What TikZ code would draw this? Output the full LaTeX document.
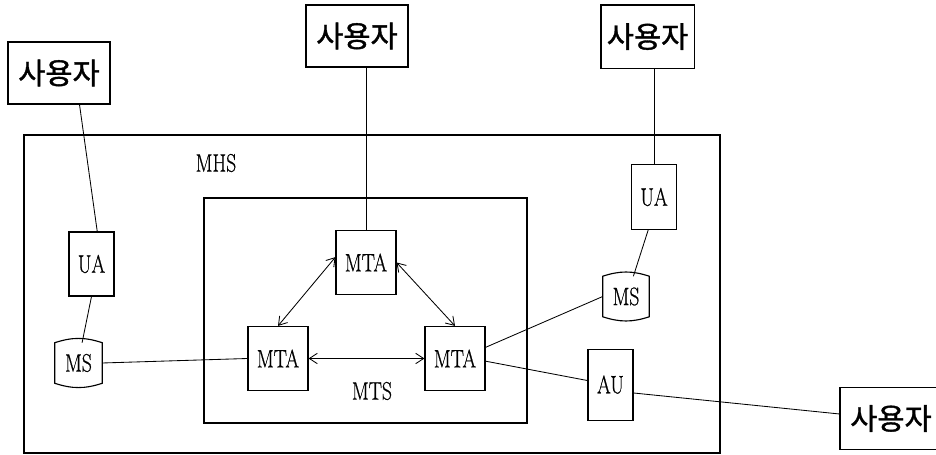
\documentclass[tikz,border=0pt]{standalone}
\usepackage{fontspec}
\newfontfamily\kor{Noto Sans CJK KR}[FakeBold=1.2]
\newfontfamily\lab{Latin Modern Roman}[FakeStretch=0.78, FakeBold=0.6]
\usetikzlibrary{arrows.meta}
\begin{document}
\begin{tikzpicture}[
		box/.style={draw, line width=0.8pt, inner sep=0pt},
		user/.style={box, minimum width=2.55cm, minimum height=1.55cm, font=\kor\fontsize{21}{21}\selectfont},
		agent/.style={box, minimum width=1.125cm, minimum height=1.6cm, font=\lab\fontsize{18}{18}\selectfont},
		mta/.style={box, minimum width=1.5cm, minimum height=1.6cm, font=\lab\fontsize{18}{18}\selectfont},
		store/.style={inner sep=0pt, minimum width=1.175cm, minimum height=1cm, font=\lab\fontsize{18}{18}\selectfont},
		link/.style={line width=0.6pt},
		>={Straight Barb[length=2mm, width=2.6mm]}
	]
		\useasboundingbox (0, 0) rectangle (23.4, 11.375);
		%%systems
			\draw[line width=0.8pt](0.6, 0.05) rectangle (18, 8);
			\node at (5.4, 7.3){\lab\fontsize{18}{18}\selectfont MHS};
			\draw[line width=0.8pt](5.1, 0.8) rectangle (13.175, 6.425);
			\node at (9.3, 1.6){\lab\fontsize{18}{18}\selectfont MTS};
			
			%users%
			\node[user] (userL) at (1.475, 9.55){사용자};
			\node[user] (userT) at (8.925, 10.475){사용자};
			\node[user, minimum width=2.33cm, minimum height=1.58cm] (userR) at (16.19, 10.46){사용자};
			\node[user] (userB) at (22.275, 0.9125){사용자};
			
			%agents%
			\node[agent] (uaL) at (2.2875, 4.775){UA};
			\node[agent, minimum height=1.625cm] (uaR) at (16.35, 6.45){UA};
			\node[agent, minimum height=1.775cm] (au) at (15.2625, 1.76){AU};
			\node[store] (msL) at (1.9625, 2.3){MS};
			\node[store, minimum width=1.15cm] (msR) at (15.65, 3.9625){MS};
			\node[mta] (mtaT) at (9.15, 4.8125){MTA};
			\node[mta] (mtaL) at (6.95, 2.4125){MTA};
			\node[mta] (mtaR) at (11.375, 2.4125){MTA};
			
			%stores%
			\draw[line width=0.8pt](msL.north west) to[bend left=18] (msL.north east) -- (msL.south east) to[bend left=18] (msL.south west) -- cycle;
			\draw[line width=0.8pt](msR.north west) to[bend left=18] (msR.north east) -- (msR.south east) to[bend left=18] (msR.south west) -- cycle;
			
			%links%
			\draw[link](userL.-57) to (uaL.80);
			\draw[link](uaL.south) to (msL.80);
			\draw[link](msL.east) to (mtaL.west);
			\draw[link](mtaT.north) to (mtaT.north |- userT.south);
			\draw[link](uaR.north) to (uaR.north |- userR.south);
			\draw[link](uaR.-100) to (msR.70);
			\draw[link](msR.west) to (mtaR.20);
			\draw[link](mtaR.-5) to (au.170);
			\draw[link](au.-20) to (userB.175);
			
			\draw[link, <->](mtaT.170) to (mtaL.north);
			\draw[link, <->](mtaT.east) to (mtaR.north);
			\draw[link, <->](mtaL.east) to (mtaR.west);
\end{tikzpicture}
\end{document}
